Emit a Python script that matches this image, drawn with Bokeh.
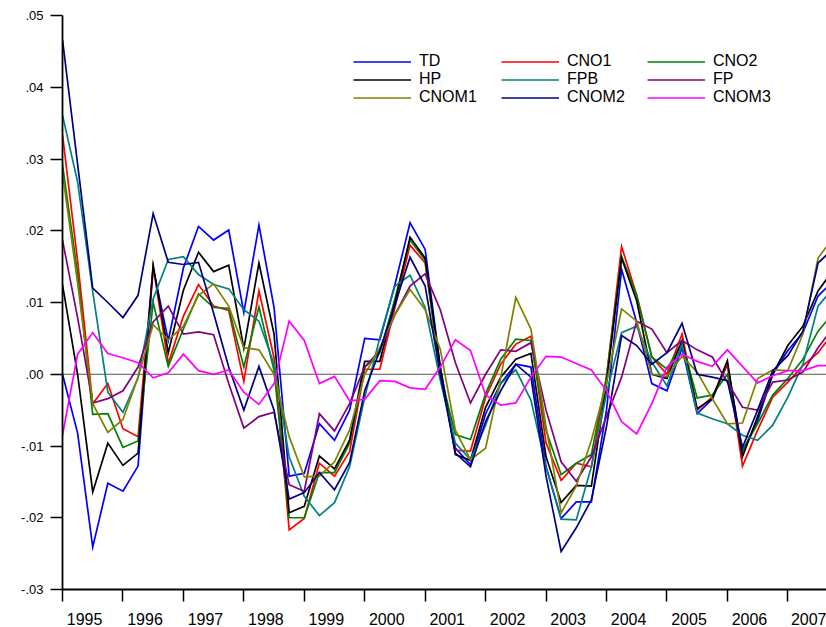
from bokeh.plotting import figure
from bokeh.models import FixedTicker, Range1d, Span, Legend, LegendItem, NumeralTickFormatter
from bokeh.embed import file_html
from bokeh.resources import INLINE

# ---------------- data ----------------
years = list(range(1995, 2008))
quarters = [f"{y}Q{q}" for y in years for q in range(1, 5)]

TD = [0.0000, -0.0082, -0.0241, -0.0152, -0.0163, -0.0128, 0.0148, 0.0047, 0.0148, 0.0206,
      0.0187, 0.0201, 0.0086, 0.0208, 0.0093, -0.0142, -0.0138, -0.0069, -0.0092, -0.0050,
      0.0050, 0.0048, 0.0125, 0.0211, 0.0174, 0.0010, -0.0103, -0.0126, -0.0055, -0.0013,
      0.0014, 0.0010, -0.0129, -0.0201, -0.0178, -0.0178, -0.0050, 0.0146, 0.0072, -0.0013,
      -0.0023, 0.0037, -0.0055, -0.0035, 0.0014, -0.0108, -0.0065, 0.0000, 0.0033, 0.0058,
      0.0109, 0.0130]
CNO1 = [0.0334, 0.0158, -0.0041, -0.0013, -0.0076, -0.0087, 0.0150, 0.0015, 0.0081, 0.0125,
        0.0095, 0.0089, -0.0010, 0.0116, 0.0023, -0.0217, -0.0201, -0.0124, -0.0142, -0.0108,
        0.0007, 0.0007, 0.0093, 0.0180, 0.0155, 0.0005, -0.0106, -0.0107, -0.0032, 0.0014,
        0.0042, 0.0053, -0.0096, -0.0148, -0.0124, -0.0129, -0.0004, 0.0178, 0.0110, 0.0024,
        0.0000, 0.0056, -0.0050, -0.0032, 0.0014, -0.0128, -0.0078, -0.0032, -0.0011, 0.0012,
        0.0030, 0.0058]
CNO2 = [0.0292, 0.0140, -0.0056, -0.0055, -0.0102, -0.0093, 0.0100, 0.0011, 0.0063, 0.0112,
        0.0093, 0.0092, 0.0010, 0.0094, 0.0005, -0.0200, -0.0200, -0.0137, -0.0137, -0.0096,
        0.0010, 0.0030, 0.0105, 0.0187, 0.0159, 0.0000, -0.0084, -0.0091, -0.0027, 0.0021,
        0.0049, 0.0047, -0.0078, -0.0140, -0.0124, -0.0112, -0.0004, 0.0164, 0.0110, 0.0024,
        0.0007, 0.0044, -0.0033, -0.0029, 0.0000, -0.0106, -0.0069, -0.0029, -0.0006, 0.0021,
        0.0060, 0.0085]
HP = [0.0125, 0.0000, -0.0164, -0.0096, -0.0127, -0.0110, 0.0152, 0.0030, 0.0117, 0.0170,
      0.0143, 0.0152, 0.0036, 0.0155, 0.0056, -0.0193, -0.0184, -0.0114, -0.0132, -0.0092,
      0.0018, 0.0018, 0.0100, 0.0191, 0.0162, 0.0010, -0.0112, -0.0120, -0.0046, -0.0004,
      0.0021, 0.0029, -0.0115, -0.0179, -0.0155, -0.0156, -0.0013, 0.0162, 0.0102, 0.0000,
      -0.0006, 0.0047, -0.0048, -0.0034, 0.0019, -0.0115, -0.0059, 0.0000, 0.0040, 0.0067,
      0.0116, 0.0145]
FPB = [0.0361, 0.0268, 0.0115, -0.0025, -0.0053, -0.0005, 0.0105, 0.0160, 0.0164, 0.0139,
       0.0125, 0.0119, 0.0090, 0.0074, 0.0014, -0.0115, -0.0170, -0.0197, -0.0179, -0.0129,
       -0.0032, 0.0051, 0.0123, 0.0138, 0.0093, -0.0008, -0.0096, -0.0119, -0.0071, -0.0013,
       0.0006, -0.0036, -0.0129, -0.0202, -0.0203, -0.0129, -0.0027, 0.0058, 0.0067, 0.0017,
       -0.0016, 0.0042, -0.0054, -0.0062, -0.0069, -0.0085, -0.0092, -0.0071, -0.0032, 0.0014,
       0.0095, 0.0120]
FP = [0.0187, 0.0079, -0.0040, -0.0034, -0.0023, 0.0010, 0.0073, 0.0095, 0.0056, 0.0059,
      0.0055, -0.0013, -0.0075, -0.0059, -0.0053, -0.0154, -0.0163, -0.0055, -0.0079, -0.0041,
      0.0010, 0.0033, 0.0083, 0.0123, 0.0140, 0.0090, 0.0016, -0.0040, 0.0000, 0.0034,
      0.0032, 0.0044, -0.0050, -0.0122, -0.0149, -0.0115, -0.0059, -0.0004, 0.0074, 0.0063,
      0.0030, 0.0047, 0.0034, 0.0024, -0.0011, -0.0046, -0.0050, -0.0011, -0.0008, 0.0003,
      0.0037, 0.0065]
CNOM1 = [0.0280, 0.0127, -0.0041, -0.0081, -0.0063, -0.0004, 0.0069, 0.0048, 0.0067, 0.0110,
         0.0126, 0.0095, 0.0037, 0.0034, 0.0000, -0.0087, -0.0143, -0.0142, -0.0122, -0.0078,
         0.0000, 0.0037, 0.0083, 0.0118, 0.0090, 0.0035, -0.0078, -0.0119, -0.0103, -0.0005,
         0.0107, 0.0063, -0.0073, -0.0193, -0.0156, -0.0092, -0.0013, 0.0091, 0.0074, 0.0000,
         -0.0003, 0.0025, 0.0003, -0.0034, -0.0069, -0.0068, -0.0006, 0.0006, 0.0005, 0.0056,
         0.0162, 0.0190]
CNOM2 = [0.0466, 0.0293, 0.0120, 0.0100, 0.0079, 0.0110, 0.0224, 0.0156, 0.0153, 0.0156,
         0.0085, 0.0010, -0.0050, 0.0011, -0.0050, -0.0174, -0.0165, -0.0137, -0.0161, -0.0123,
         -0.0023, 0.0033, 0.0097, 0.0163, 0.0123, 0.0000, -0.0110, -0.0129, -0.0066, -0.0023,
         0.0014, -0.0004, -0.0142, -0.0247, -0.0214, -0.0175, -0.0073, 0.0054, 0.0040, 0.0014,
         0.0030, 0.0071, 0.0000, -0.0004, -0.0009, -0.0102, -0.0050, 0.0005, 0.0026, 0.0060,
         0.0155, 0.0175]
CNOM3 = [-0.0085, 0.0028, 0.0058, 0.0029, 0.0023, 0.0016, -0.0005, 0.0002, 0.0028, 0.0005,
         0.0000, 0.0006, -0.0025, -0.0042, -0.0013, 0.0074, 0.0047, -0.0013, -0.0003, -0.0037,
         -0.0035, -0.0009, -0.0010, -0.0019, -0.0021, 0.0010, 0.0048, 0.0033, -0.0029, -0.0043,
         -0.0040, -0.0004, 0.0025, 0.0024, 0.0015, 0.0006, -0.0023, -0.0066, -0.0083, -0.0041,
         0.0010, 0.0028, 0.0018, 0.0011, 0.0034, 0.0011, -0.0012, -0.0002, 0.0005, 0.0005,
         0.0012, 0.0012]

series_names = ["TD", "CNO1", "CNO2", "HP", "FPB", "FP", "CNOM1", "CNOM2", "CNOM3"]
series_values = [TD, CNO1, CNO2, HP, FPB, FP, CNOM1, CNOM2, CNOM3]
series_colors = ["#0000FF", "#FF0000", "#008000", "#000000", "#008080",
                 "#800080", "#808000", "#000080", "#FF00FF"]

y_ticks = [-0.03, -0.02, -0.01, 0.0, 0.01, 0.02, 0.03, 0.04, 0.05]
y_tick_labels = ["-.03", "-.02", "-.01", ".00", ".01", ".02", ".03", ".04", ".05"]

# quarterly positions on a continuous year axis
x = [int(s[:4]) + (int(s[5]) - 1) / 4 for s in quarters]

FONT = "Liberation Sans"

p = figure(width=826, height=627, output_backend="svg", toolbar_location=None,
           x_range=Range1d(1995, 2007.64), y_range=Range1d(-0.03, 0.05),
           min_border_left=62, min_border_right=0, min_border_top=15, min_border_bottom=33)
p.outline_line_color = None
p.grid.visible = False
p.background_fill_color = "white"
p.border_fill_color = "white"

# x axis: tick marks at year starts (minor), labels between them
xa = p.xaxis[0]
xa.ticker = FixedTicker(ticks=[y + 0.365 for y in years], minor_ticks=years)
xa.formatter = NumeralTickFormatter(format="0")
xa.major_tick_out = 0
xa.major_tick_in = 0
xa.minor_tick_out = 12
xa.minor_tick_in = 0
xa.minor_tick_line_color = "black"
xa.minor_tick_line_width = 1.5
xa.axis_line_color = "black"
xa.axis_line_width = 1.8
xa.major_label_text_font = FONT
xa.major_label_text_font_size = "16px"
xa.major_label_text_color = "black"
xa.major_label_standoff = 11

ya = p.yaxis[0]
ya.ticker = FixedTicker(ticks=y_ticks, minor_ticks=[])
ya.major_label_overrides = {t: l for t, l in zip(y_ticks, y_tick_labels)}
ya.major_tick_out = 12
ya.major_tick_in = 0
ya.major_tick_line_color = "black"
ya.major_tick_line_width = 1.5
ya.minor_tick_out = 0
ya.minor_tick_in = 0
ya.axis_line_color = "black"
ya.axis_line_width = 1.8
ya.major_label_text_font = FONT
ya.major_label_text_font_size = "13px"
ya.major_label_text_color = "black"
ya.major_label_standoff = 7

zero = Span(location=0, dimension="width", line_color="#555555", line_width=1, level="underlay")
p.add_layout(zero)

renderers = {}
for name, vals, col in zip(series_names, series_values, series_colors):
    renderers[name] = p.line(x, vals, line_color=col, line_width=1.7, line_join="miter")

legend_columns = [["TD", "HP", "CNOM1"], ["CNO1", "FPB", "CNOM2"], ["CNO2", "FP", "CNOM3"]]
legend_x = [291, 439, 585]
for names, lx in zip(legend_columns, legend_x):
    lg = Legend(items=[LegendItem(label=n, renderers=[renderers[n]]) for n in names],
                location=(lx, 483), orientation="vertical",
                padding=0, margin=0, spacing=0,
                border_line_color=None, background_fill_alpha=0,
                glyph_width=58, glyph_height=17, label_height=17, label_standoff=8,
                label_text_font=FONT, label_text_font_size="16px", label_text_color="black")
    p.add_layout(lg)

open("out.html", "w").write(file_html(p, INLINE))
